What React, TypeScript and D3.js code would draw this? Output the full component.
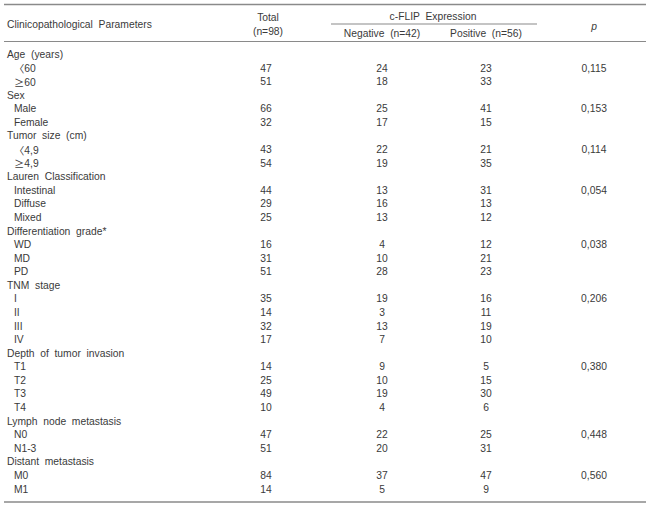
import React from "react";
import * as d3 from "d3";

const groupNames = [
  "Age  (years)",
  "Sex",
  "Tumor  size  (cm)",
  "Lauren  Classification",
  "Differentiation  grade*",
  "TNM  stage",
  "Depth  of  tumor  invasion",
  "Lymph  node  metastasis",
  "Distant  metastasis",
];
const subLabels = [
  ["〈60", "≥60"],
  ["Male", "Female"],
  ["〈4,9", "≥4,9"],
  ["Intestinal", "Diffuse", "Mixed"],
  ["WD", "MD", "PD"],
  ["I", "II", "III", "IV"],
  ["T1", "T2", "T3", "T4"],
  ["N0", "N1-3"],
  ["M0", "M1"],
];
const totalValues = [
  [47, 51],
  [66, 32],
  [43, 54],
  [44, 29, 25],
  [16, 31, 51],
  [35, 14, 32, 17],
  [14, 25, 49, 10],
  [47, 51],
  [84, 14],
];
const negativeValues = [
  [24, 18],
  [25, 17],
  [22, 19],
  [13, 16, 13],
  [4, 10, 28],
  [19, 3, 13, 7],
  [9, 10, 19, 4],
  [22, 20],
  [37, 5],
];
const positiveValues = [
  [23, 33],
  [41, 15],
  [21, 35],
  [31, 13, 12],
  [12, 21, 23],
  [16, 11, 19, 10],
  [5, 15, 30, 6],
  [25, 31],
  [47, 9],
];
const pValues = ["0,115", "0,153", "0,114", "0,054", "0,038", "0,206", "0,380", "0,448", "0,560"];

const headerLabels = ["Clinicopathological  Parameters", "Total", "(n=98)", "c-FLIP  Expression", "Negative  (n=42)", "Positive  (n=56)", "p"];

type Row = { label: string; indent: boolean; total?: number; neg?: number; pos?: number; p?: string };

const rows: Row[] = [];
groupNames.forEach((g, gi) => {
  rows.push({ label: g, indent: false });
  subLabels[gi].forEach((s, si) => {
    rows.push({
      label: s,
      indent: true,
      total: totalValues[gi][si],
      neg: negativeValues[gi][si],
      pos: positiveValues[gi][si],
      p: si === 0 ? pValues[gi] : undefined,
    });
  });
});

const cjkFont = "'Noto Sans CJK KR', 'Noto Sans CJK SC', sans-serif";

function Label({ text }: { text: string }) {
  const first = text.charAt(0);
  if (first === "〈" || first === "≥") {
    return (
      <>
        <tspan style={{ fontFamily: cjkFont }}>{first}</tspan>
        <tspan>{text.slice(1)}</tspan>
      </>
    );
  }
  return <>{text}</>;
}

export default function App() {
  const W = 650;
  const H = 507;
  const y = d3
    .scalePoint<number>()
    .domain(d3.range(rows.length))
    .range([54.5, 489]);
  const col = d3
    .scaleOrdinal<string, number>()
    .domain(["label", "indent", "total", "neg", "pos", "p"])
    .range([7, 14, 266, 382, 486, 594]);
  const color = "#3a3a3a";
  const lineColor = "#8a8a8a";
  const font = "'Liberation Sans', Arial, sans-serif";
  const ts: React.CSSProperties = { fontFamily: font, fontSize: 10.3, fill: color };

  return (
    <svg
      width={W}
      height={H}
      style={{ position: "absolute", left: 0, top: 0, background: "#fff" }}
    >
      <rect width={W} height={H} fill="#fff" />
      <line x1={4} x2={646} y1={4.5} y2={4.5} stroke={lineColor} strokeWidth={1.6} />
      <line x1={4} x2={646} y1={41.5} y2={41.5} stroke={lineColor} strokeWidth={1.2} />
      <line x1={331} x2={537} y1={24} y2={24} stroke={lineColor} strokeWidth={1.2} />
      <line x1={4} x2={646} y1={502} y2={502} stroke={lineColor} strokeWidth={1.6} />

      <g style={ts} dominantBaseline="central">
        <text x={col("label")} y={24} style={{ whiteSpace: "pre" }}>{headerLabels[0]}</text>
        <text x={col("total") + 2} y={17} textAnchor="middle">{headerLabels[1]}</text>
        <text x={col("total") + 2} y={31.5} textAnchor="middle">{headerLabels[2]}</text>
        <text x={433} y={16} textAnchor="middle" style={{ whiteSpace: "pre" }}>{headerLabels[3]}</text>
        <text x={col("neg")} y={33} textAnchor="middle" style={{ whiteSpace: "pre" }}>{headerLabels[4]}</text>
        <text x={col("pos")} y={33} textAnchor="middle" style={{ whiteSpace: "pre" }}>{headerLabels[5]}</text>
        <text x={col("p")} y={26} textAnchor="middle" fontStyle="italic">{headerLabels[6]}</text>

        {rows.map((r, i) => (
          <g key={i}>
            <text x={r.indent ? col("indent") : col("label")} y={y(i)} style={{ whiteSpace: "pre" }}>
              <Label text={r.label} />
            </text>
            {r.total !== undefined && (
              <text x={col("total")} y={y(i)} textAnchor="middle">{r.total}</text>
            )}
            {r.neg !== undefined && (
              <text x={col("neg")} y={y(i)} textAnchor="middle">{r.neg}</text>
            )}
            {r.pos !== undefined && (
              <text x={col("pos")} y={y(i)} textAnchor="middle">{r.pos}</text>
            )}
            {r.p !== undefined && (
              <text x={col("p")} y={y(i)} textAnchor="middle">{r.p}</text>
            )}
          </g>
        ))}
      </g>
    </svg>
  );
}
